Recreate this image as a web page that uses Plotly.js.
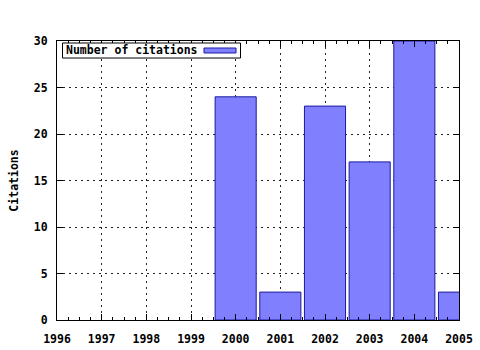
<!DOCTYPE html>
<html>
<head>
<meta charset="utf-8">
<script src="https://cdn.plot.ly/plotly-3.0.1.min.js"></script>
<style>html,body{margin:0;padding:0;background:#fff;}#chart{width:480px;height:350px;}</style>
</head>
<body>
<div id="chart"></div>
<script>
const years = [2000, 2001, 2002, 2003, 2004, 2005];
const citations = [24, 3, 23, 17, 30, 3];
const tickYears = [1996, 1997, 1998, 1999, 2000, 2001, 2002, 2003, 2004, 2005];
const seriesName = 'Number of citations';
const yTitle = 'Citations';

const font = {family: '"DejaVu Sans Mono", "Liberation Mono", monospace', size: 11.5, color: '#000'};
const boldFont = Object.assign({}, font, {weight: 'bold'});

const trace = {
  type: 'bar',
  x: years,
  y: citations,
  width: 0.92,
  name: seriesName,
  marker: {color: '#8080ff', line: {color: '#1a1aa0', width: 1}},
  showlegend: false,
  hoverinfo: 'skip'
};

const axisCommon = {
  showline: true, linecolor: '#000', linewidth: 1, mirror: 'ticks',
  ticks: 'inside', ticklen: 6, tickcolor: '#000', tickwidth: 1,
  showgrid: true, gridcolor: '#222', griddash: '2px,4px', gridwidth: 1,
  zeroline: false, tickfont: boldFont, fixedrange: true
};

const layout = {
  width: 480, height: 350,
  margin: {l: 57, r: 21, t: 41, b: 30},
  paper_bgcolor: '#fff', plot_bgcolor: '#fff',
  font: font,
  bargap: 0,
  xaxis: Object.assign({}, axisCommon, {
    range: [1996, 2005], tickmode: 'array', tickvals: tickYears,
    ticktext: tickYears.map(String), ticklabelstandoff: 8,
    minor: {ticks: 'inside', dtick: 0.25, tick0: 1996, ticklen: 3, tickcolor: '#000', showgrid: false}
  }),
  yaxis: Object.assign({}, axisCommon, {
    range: [0, 30], tick0: 0, dtick: 5, ticklabelstandoff: 6,
    title: {text: yTitle, font: boldFont, standoff: 12}
  }),
  shapes: [
    {type: 'rect', xref: 'paper', yref: 'paper', x0: 0.0137, x1: 0.4565, y0: 0.939, y1: 0.9928,
     line: {color: '#000', width: 1}, fillcolor: '#fff', layer: 'above'},
    {type: 'rect', xref: 'paper', yref: 'paper', x0: 0.3657, x1: 0.4453, y0: 0.957, y1: 0.9749,
     line: {color: '#1a1aa0', width: 1}, fillcolor: '#8080ff', layer: 'above'}
  ],
  annotations: [
    {xref: 'paper', yref: 'paper', x: 0.0174, y: 0.966, xanchor: 'left', yanchor: 'middle',
     text: seriesName, showarrow: false, font: boldFont}
  ]
};

Plotly.newPlot('chart', [trace], layout, {displayModeBar: false, staticPlot: true});
</script>
</body>
</html>
